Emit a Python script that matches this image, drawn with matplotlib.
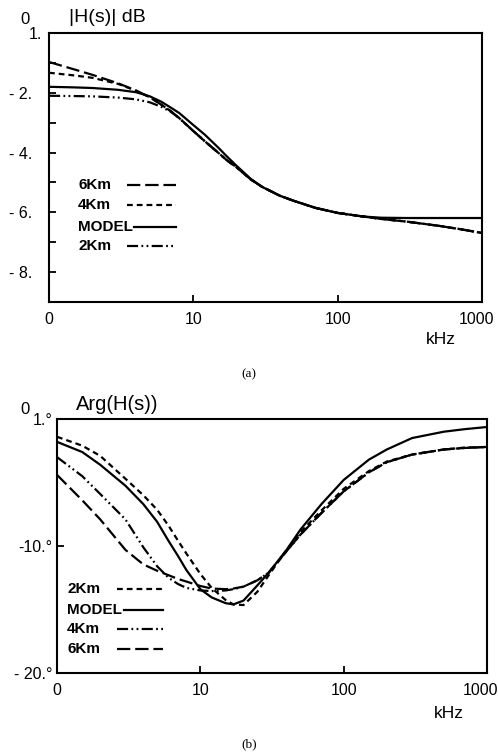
import matplotlib
matplotlib.use("Agg")
import matplotlib.pyplot as plt
import matplotlib.transforms as mtransforms
from matplotlib.lines import Line2D

plt.rcParams['font.family'] = ['Liberation Sans', 'DejaVu Sans']

# ---------------- data ----------------
freq = [1, 1.5, 2, 3, 4, 5, 6, 7, 8, 10, 12, 15, 17, 20, 25, 30, 40, 50, 70,
        100, 150, 200, 300, 500, 700, 1000]

# (a) |H(s)| dB
mag_6km = [-0.97, -1.22, -1.40, -1.68, -1.92, -2.15, -2.40, -2.62, -2.85, -3.28,
           -3.62, -4.02, -4.25, -4.50, -4.90, -5.15, -5.45, -5.62, -5.85, -6.02,
           -6.14, -6.22, -6.31, -6.45, -6.56, -6.69]
mag_4km = [-1.33, -1.42, -1.50, -1.70, -1.93, -2.15, -2.40, -2.62, -2.85, -3.28,
           -3.62, -4.02, -4.25, -4.50, -4.90, -5.15, -5.45, -5.62, -5.85, -6.02,
           -6.14, -6.22, -6.31, -6.45, -6.56, -6.69]
mag_model = [-1.80, -1.82, -1.84, -1.90, -1.98, -2.12, -2.30, -2.50, -2.68, -3.08,
             -3.40, -3.85, -4.12, -4.45, -4.88, -5.15, -5.45, -5.62, -5.85, -6.02,
             -6.14, -6.18, -6.19, -6.19, -6.19, -6.19]
mag_2km = [-2.10, -2.11, -2.12, -2.16, -2.22, -2.32, -2.47, -2.64, -2.85, -3.28,
           -3.62, -4.02, -4.25, -4.50, -4.90, -5.15, -5.45, -5.62, -5.85, -6.02,
           -6.14, -6.22, -6.31, -6.45, -6.56, -6.69]

# (b) Arg(H(s)) degrees
arg_2km = [-1.4, -2.1, -2.9, -4.7, -6.0, -7.15, -8.4, -9.6, -10.6, -12.2,
           -13.3, -14.25, -14.6, -14.65, -13.6, -12.3, -10.3, -8.9, -7.2, -5.5,
           -4.1, -3.35, -2.8, -2.4, -2.25, -2.2]
arg_model = [-1.8, -2.6, -3.6, -5.25, -6.7, -8.1, -9.6, -10.8, -11.9, -13.4,
             -14.05, -14.5, -14.6, -14.3, -13.1, -12.1, -10.3, -8.7, -6.7, -4.8,
             -3.2, -2.4, -1.5, -1.0, -0.8, -0.63]
arg_4km = [-3.0, -4.5, -5.9, -7.9, -10.1, -11.6, -12.5, -13.0, -13.3, -13.5,
           -13.55, -13.5, -13.4, -13.2, -12.7, -12.1, -10.4, -9.1, -7.4, -5.7,
           -4.2, -3.4, -2.8, -2.4, -2.28, -2.2]
arg_6km = [-4.4, -6.4, -7.9, -10.3, -11.45, -11.95, -12.3, -12.6, -12.8, -13.15,
           -13.35, -13.4, -13.35, -13.2, -12.7, -12.1, -10.4, -9.1, -7.4, -5.7,
           -4.2, -3.4, -2.8, -2.4, -2.28, -2.2]

xticks = [1, 10, 100, 1000]
xticklabels = ['0', '10', '100', '1000']
mag_ticks = [0, -2, -4, -6, -8]
mag_ticklabels = ['1.', '- 2.', '- 4.', '- 6.', '- 8.']
arg_ticks = [0, -10, -20]
arg_ticklabels = ['1.°', '-10.°', '- 20.°']

# ---------------- styles ----------------
LW = 1.6
st_6km = (0, (6, 2.2))
st_4km = (0, (2.6, 1.8))
st_model = '-'
st_ddot = (0, (5, 1.5, 0.8, 1.5, 0.8, 1.5))

fig = plt.figure(figsize=(4.98, 7.54), dpi=100)

W, H = 498, 754
def axes_px(l, t, r, b):
    return fig.add_axes([l / W, 1 - b / H, (r - l) / W, (b - t) / H])

def shift(label, dx_px, dy_px=0):
    off = mtransforms.ScaledTranslation(dx_px / 100, dy_px / 100, fig.dpi_scale_trans)
    label.set_transform(label.get_transform() + off)

def style_axes(ax):
    ax.set_xscale('log')
    ax.set_xlim(1, 1000)
    for s in ax.spines.values():
        s.set_linewidth(1.5)
    ax.tick_params(axis='both', which='major', direction='in', length=5, width=1.3,
                   labelsize=11.5, pad=6)
    ax.tick_params(axis='x', which='minor', bottom=False, top=False)
    ax.set_xticks(xticks)
    ax.set_xticklabels(xticklabels)
    ax.xaxis.set_tick_params(pad=7)
    shift(ax.get_xticklabels()[-1], -6)

def manual_legend(ax, entries, l0, r0, x_text, rows, axl, axr, axt, axb):
    for (label, ls), yrow in zip(entries, rows):
        ya = (axb - yrow) / (axb - axt)
        xt = (x_text - axl) / (axr - axl)
        ax.text(xt, ya, label, transform=ax.transAxes, fontsize=11,
                fontweight='bold', va='center', ha='left')
        start = l0 if label != 'MODEL' else l0 + 7
        ln = Line2D([(start - axl) / (axr - axl), (r0 - axl) / (axr - axl)], [ya, ya],
                    transform=ax.transAxes, color='black', lw=LW, linestyle=ls)
        ax.add_line(ln)

# ---------------- (a) ----------------
axl, axt, axr, axb = 49, 33, 482, 302
ax1 = axes_px(axl, axt, axr, axb)
style_axes(ax1)
ax1.plot(freq, mag_6km, color='black', lw=LW, linestyle=st_6km)
ax1.plot(freq, mag_4km, color='black', lw=LW, linestyle=st_4km)
ax1.plot(freq, mag_model, color='black', lw=LW, linestyle=st_model)
ax1.plot(freq, mag_2km, color='black', lw=LW, linestyle=st_ddot)
ax1.set_ylim(-9, 0)
ax1.set_yticks(mag_ticks)
ax1.set_yticklabels(mag_ticklabels)
ax1.set_yticks([-1, -3, -5, -7], minor=True)
ax1.tick_params(axis='y', which='minor', direction='in', length=5, width=1.3)
ax1.tick_params(axis='y', which='major', pad=12)
shift(ax1.get_yticklabels()[0], 10)
ax1.text(25 / W, 1 - 20 / H, '0', transform=fig.transFigure, fontsize=12,
         ha='center', va='center')
ax1.text(69 / W, 1 - 17 / H, '|H(s)| dB', transform=fig.transFigure, fontsize=14,
         ha='left', va='center')
ax1.text(441 / W, 1 - 340 / H, 'kHz', transform=fig.transFigure, fontsize=12.5,
         ha='center', va='center')
fig.text(249 / W, 1 - 374 / H, '(a)', fontsize=9.5, ha='center', va='center',
         family=['Liberation Serif', 'DejaVu Serif'])
manual_legend(ax1, [('6Km', st_6km), ('4Km', st_4km), ('MODEL', st_model), ('2Km', st_ddot)],
              127, 176, 78, [185, 205, 227, 246], axl, axr, axt, axb)

# ---------------- (b) ----------------
bxl, bxt, bxr, bxb = 57, 419, 487, 673
ax2 = axes_px(bxl, bxt, bxr, bxb)
style_axes(ax2)
ax2.plot(freq, arg_2km, color='black', lw=LW, linestyle=st_4km)
ax2.plot(freq, arg_model, color='black', lw=LW, linestyle=st_model)
ax2.plot(freq, arg_4km, color='black', lw=LW, linestyle=st_ddot)
ax2.plot(freq, arg_6km, color='black', lw=LW, linestyle=st_6km)
ax2.set_ylim(-20, 0)
ax2.set_yticks(arg_ticks)
ax2.set_yticklabels(arg_ticklabels)
ax2.tick_params(axis='y', which='major', pad=3)
ax2.text(25 / W, 1 - 410 / H, '0', transform=fig.transFigure, fontsize=12,
         ha='center', va='center')
ax2.text(76 / W, 1 - 404 / H, 'Arg(H(s))', transform=fig.transFigure, fontsize=14.5,
         ha='left', va='center')
ax2.text(449 / W, 1 - 713 / H, 'kHz', transform=fig.transFigure, fontsize=12.5,
         ha='center', va='center')
fig.text(249 / W, 1 - 744 / H, '(b)', fontsize=9.5, ha='center', va='center',
         family=['Liberation Serif', 'DejaVu Serif'])
manual_legend(ax2, [('2Km', st_4km), ('MODEL', st_model), ('4Km', st_ddot), ('6Km', st_6km)],
              117, 163, 67, [589, 610, 629, 649], bxl, bxr, bxt, bxb)

fig.savefig('out.png', dpi=100)
